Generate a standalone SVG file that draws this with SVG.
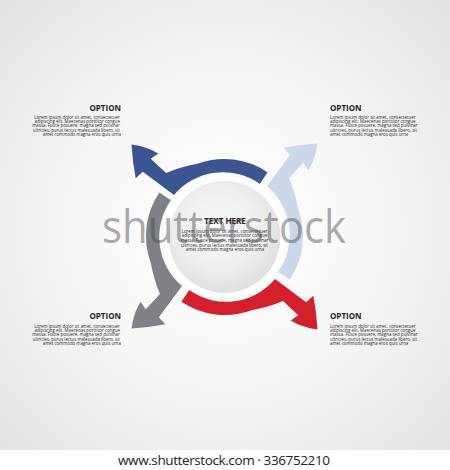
<svg xmlns="http://www.w3.org/2000/svg" xmlns:xlink="http://www.w3.org/1999/xlink" width="450" height="470" viewBox="0 0 450 470">
<style>
.opt{font-family:"Open Sans","Liberation Sans",sans-serif;font-weight:700;font-size:8px;fill:#222}
.body{font-family:"Open Sans","Liberation Sans",sans-serif;font-size:4.4px;fill:#2a2a2a}
.wm{font-family:"Open Sans","Liberation Sans",sans-serif;font-size:45px;fill:#444;fill-opacity:0.45}
.foot{font-family:"Open Sans","Liberation Sans",sans-serif;font-size:13.5px;fill:#222}
</style>
<defs>
<radialGradient id="bg" cx="225" cy="230" r="330" gradientUnits="userSpaceOnUse">
<stop offset="0" stop-color="#ffffff"/>
<stop offset="0.45" stop-color="#f7f7f7"/>
<stop offset="1" stop-color="#e2e2e2"/>
</radialGradient>
<radialGradient id="disc" cx="0.45" cy="0.42" r="0.6">
<stop offset="0" stop-color="#f8f8f8"/>
<stop offset="0.6" stop-color="#efefef"/>
<stop offset="1" stop-color="#dedede"/>
</radialGradient>
<path id="arrow" d="M43.6,-64.7 A78,78 0 0 0 -26.7,-73.3 Q-44,-70 -58,-64 L-73.3,-78.3 L-65.7,-83.5 Q-77,-90.5 -92.5,-92.5 Q-91.5,-75 -88.3,-58.7 L-81.2,-65.2 L-50,-42 A64,64 0 0 1 35.8,-53.1 Z"/>
</defs>
<rect x="0" y="0" width="450" height="470" fill="url(#bg)"/>
<rect x="0" y="450" width="450" height="20" fill="#ffffff"/>
<g id="arrows">
<g id="arrow-blue"><use xlink:href="#arrow" href="#arrow" transform="translate(224,237)" fill="#3a5592"/></g>
<g id="arrow-lightblue"><use xlink:href="#arrow" href="#arrow" transform="translate(225,236) rotate(90)" fill="#cbd7ea"/></g>
<g id="arrow-red"><use xlink:href="#arrow" href="#arrow" transform="translate(225,237) rotate(180)" fill="#d2212a"/></g>
<g id="arrow-gray"><use xlink:href="#arrow" href="#arrow" transform="translate(224,236) rotate(270)" fill="#7f8187"/></g>
</g>
<g id="center">
<circle cx="224.5" cy="237" r="61" fill="#ffffff"/>
<circle cx="224.5" cy="237" r="56" fill="url(#disc)"/>
<text class="opt" x="225" y="224" text-anchor="middle">TEXT HERE</text>
<text class="body" text-anchor="middle">
<tspan x="225" y="232.8">Lorem ipsum dolor sit amet, consectetuer</tspan>
<tspan x="225" y="237.4">adipiscing elit. Maecenas porttitor congue</tspan>
<tspan x="225" y="242">massa. Fusce posuere, magna sed pulvinar</tspan>
<tspan x="225" y="246.6">ultricies, purus lectus malesuada libero, sit</tspan>
<tspan x="225" y="251.2">amet commodo magna eros quis urna</tspan>
</text>
</g>
<g id="option-top-left">
<text class="opt" x="121" y="111" text-anchor="end">OPTION</text>
<text class="body" text-anchor="end">
<tspan x="121" y="118.5">Lorem ipsum dolor sit amet, consectetuer</tspan>
<tspan x="121" y="122.9">adipiscing elit. Maecenas porttitor congue</tspan>
<tspan x="121" y="127.3">massa. Fusce posuere, magna sed pulvinar</tspan>
<tspan x="121" y="131.7">ultricies, purus lectus malesuada libero, sit</tspan>
<tspan x="121" y="136.1">amet commodo magna eros quis urna</tspan>
</text>
</g>
<g id="option-top-right">
<text class="opt" x="330" y="111">OPTION</text>
<text class="body">
<tspan x="330" y="118.5">Lorem ipsum dolor sit amet, consectetuer</tspan>
<tspan x="330" y="122.9">adipiscing elit. Maecenas porttitor congue</tspan>
<tspan x="330" y="127.3">massa. Fusce posuere, magna sed pulvinar</tspan>
<tspan x="330" y="131.7">ultricies, purus lectus malesuada libero, sit</tspan>
<tspan x="330" y="136.1">amet commodo magna eros quis urna</tspan>
</text>
</g>
<g id="option-bottom-left">
<text class="opt" x="121" y="319" text-anchor="end">OPTION</text>
<text class="body" text-anchor="end">
<tspan x="121" y="327.5">Lorem ipsum dolor sit amet, consectetuer</tspan>
<tspan x="121" y="331.9">adipiscing elit. Maecenas porttitor congue</tspan>
<tspan x="121" y="336.3">massa. Fusce posuere, magna sed pulvinar</tspan>
<tspan x="121" y="340.7">ultricies, purus lectus malesuada libero, sit</tspan>
<tspan x="121" y="345.1">amet commodo magna eros quis urna</tspan>
</text>
</g>
<g id="option-bottom-right">
<text class="opt" x="330" y="319">OPTION</text>
<text class="body">
<tspan x="330" y="327.5">Lorem ipsum dolor sit amet, consectetuer</tspan>
<tspan x="330" y="331.9">adipiscing elit. Maecenas porttitor congue</tspan>
<tspan x="330" y="336.3">massa. Fusce posuere, magna sed pulvinar</tspan>
<tspan x="330" y="340.7">ultricies, purus lectus malesuada libero, sit</tspan>
<tspan x="330" y="345.1">amet commodo magna eros quis urna</tspan>
</text>
</g>
<text class="wm" x="224" y="243" text-anchor="middle" textLength="244" lengthAdjust="spacingAndGlyphs">shutterstock</text>
<text class="foot" x="224" y="465" text-anchor="middle" textLength="212">www.shutterstock.com · 336752210</text>
</svg>
